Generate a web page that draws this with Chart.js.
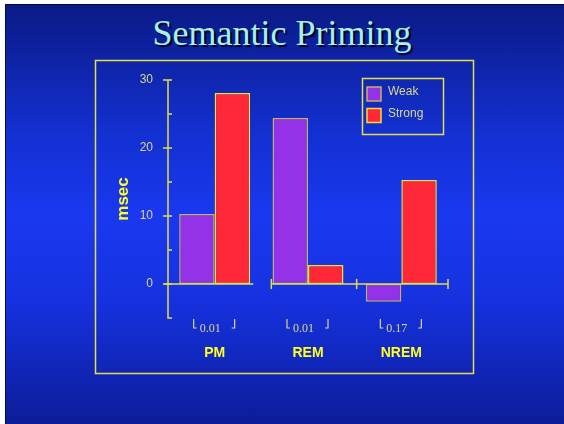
<!DOCTYPE html>
<html>
<head>
<meta charset="utf-8">
<title>Semantic Priming</title>
<script src="https://cdn.jsdelivr.net/npm/chart.js@4.4.0/dist/chart.umd.min.js"></script>
<style>
  body { margin: 0; background: #fff; width: 564px; height: 424px; overflow: hidden; }
  #slide {
    position: absolute; left: 5px; top: 4px; width: 559px; height: 420px;
    border-left: 1px solid #050a40; border-top: 1px solid #050a40;
    background: linear-gradient(to bottom, #0b1a86 0%, #1330d0 30%, #1a38f0 50%, #1632e0 70%, #0c1c98 100%);
  }
  #title {
    position: absolute; left: 0; top: 12px; width: 564px; text-align: center;
    font-family: "Liberation Serif", "DejaVu Serif", serif; font-size: 36px;
    color: #a8f2e2; text-shadow: 2px 2px 1px #000028;
  }
  #chart { position: absolute; left: 0; top: 0; }
</style>
</head>
<body>
<div id="slide"></div>
<div id="title">Semantic Priming</div>
<canvas id="chart" width="564" height="424"></canvas>
<script>
const categories = ["PM", "REM", "NREM"];
const pValues = ["0.01", "0.01", "0.17"];
const weak = [10.3, 24.4, -2.6];
const strong = [28.1, 2.8, 15.3];
const seriesNames = ["Weak", "Strong"];

const axisYellow = "#e6de48";
const paleYellow = "#d8d88c";

// frame, axes, p-values and legend drawn by hand like the slide
const slideDecor = {
  id: "slide_decor",
  beforeDraw(chart) {
    const ctx = chart.ctx;
    ctx.save();
    ctx.strokeStyle = axisYellow;
    ctx.lineWidth = 1.5;
    ctx.strokeRect(95.5, 60.5, 378, 313);
    ctx.restore();
  },
  afterDatasetsDraw(chart) {
    const ctx = chart.ctx;
    const x = chart.scales.x;
    const y = chart.scales.y;
    const area = chart.chartArea;
    const ax = area.left;
    ctx.save();
    ctx.strokeStyle = axisYellow;
    ctx.lineWidth = 1.5;

    // y axis
    ctx.beginPath();
    ctx.moveTo(ax, y.getPixelForValue(30));
    ctx.lineTo(ax, y.getPixelForValue(-5));
    ctx.lineTo(ax + 4, y.getPixelForValue(-5));
    for (let v = 0; v <= 30; v += 5) {
      const py = y.getPixelForValue(v);
      ctx.moveTo(v % 10 === 0 ? ax - 5 : ax, py);
      ctx.lineTo(ax + 4, py);
    }
    ctx.stroke();

    // broken x axis at zero
    const y0 = y.getPixelForValue(0);
    const b01 = (x.getPixelForValue(0) + x.getPixelForValue(1)) / 2;
    const b12 = (x.getPixelForValue(1) + x.getPixelForValue(2)) / 2;
    ctx.beginPath();
    ctx.moveTo(ax - 4, y0);
    ctx.lineTo(b01 - 8, y0);
    ctx.moveTo(b01 + 10, y0);
    ctx.lineTo(area.right, y0);
    for (const tx of [b01 + 10, b12 + 2, area.right]) {
      ctx.moveTo(tx, y0 - 5);
      ctx.lineTo(tx, y0 + 5);
    }
    ctx.stroke();

    // p-values with brackets
    ctx.lineWidth = 1.2;
    ctx.strokeStyle = paleYellow;
    ctx.fillStyle = paleYellow;
    ctx.font = "12px 'Liberation Serif', serif";
    ctx.textAlign = "left";
    ctx.textBaseline = "alphabetic";
    pValues.forEach((p, i) => {
      const cx = x.getPixelForValue(i);
      const top = area.bottom + 1;
      ctx.beginPath();
      ctx.moveTo(cx - 21, top);
      ctx.lineTo(cx - 21, top + 9);
      ctx.lineTo(cx - 18, top + 9);
      ctx.moveTo(cx + 20, top);
      ctx.lineTo(cx + 20, top + 9);
      ctx.lineTo(cx + 17, top + 9);
      ctx.stroke();
      ctx.fillText(p, cx - 15, top + 13);
    });

    // legend box
    const lx = area.right - 86;
    const ly = area.top - 2;
    ctx.lineWidth = 1.5;
    ctx.strokeStyle = axisYellow;
    ctx.strokeRect(lx + 0.5, ly + 0.5, 81, 56);
    ctx.font = "12px 'Liberation Sans', Arial, sans-serif";
    ctx.textBaseline = "middle";
    chart.data.datasets.forEach((ds, i) => {
      const sy = ly + 9 + i * 21.5;
      ctx.fillStyle = ds.backgroundColor;
      ctx.fillRect(lx + 5, sy, 14, 14);
      ctx.strokeStyle = ds.borderColor;
      ctx.lineWidth = 1.5;
      ctx.strokeRect(lx + 5, sy, 14, 14);
      ctx.fillStyle = paleYellow;
      ctx.fillText(ds.label, lx + 26, sy + 5);
    });
    ctx.restore();
  }
};

new Chart(document.getElementById("chart"), {
  type: "bar",
  plugins: [slideDecor],
  data: {
    labels: categories,
    datasets: [
      {
        label: seriesNames[0],
        data: weak,
        backgroundColor: "#9432e8",
        borderColor: "#c8b060",
        borderWidth: 1.5,
        borderSkipped: false
      },
      {
        label: seriesNames[1],
        data: strong,
        backgroundColor: "#ff2838",
        borderColor: "#f2e030",
        borderWidth: 1.5,
        borderSkipped: false
      }
    ]
  },
  options: {
    responsive: false,
    animation: false,
    layout: { padding: { left: 108, right: 116, top: 80, bottom: 0 } },
    datasets: { bar: { barPercentage: 1.0, categoryPercentage: 0.76 } },
    plugins: { legend: { display: false }, tooltip: { enabled: false } },
    scales: {
      x: {
        grid: { display: false, drawTicks: false },
        border: { display: false },
        ticks: {
          color: "#ffff22",
          padding: 27,
          font: { family: "'Liberation Sans', Arial, sans-serif", size: 14, weight: "bold" }
        },
        afterFit: (s) => { s.height = 106; }
      },
      y: {
        min: -5,
        max: 30,
        grid: { display: false, drawTicks: false },
        border: { display: false },
        ticks: {
          stepSize: 10,
          color: paleYellow,
          padding: 15,
          font: { family: "'Liberation Sans', Arial, sans-serif", size: 12 },
          callback: (v) => (v % 10 === 0 ? v : "")
        },
        title: {
          display: true,
          text: "msec",
          color: "#ffff22",
          padding: { top: 5, bottom: 0 },
          font: { family: "'Liberation Sans', Arial, sans-serif", size: 17, weight: "bold" }
        },
        afterFit: (s) => { s.width = 60; }
      }
    }
  }
});
</script>
</body>
</html>
